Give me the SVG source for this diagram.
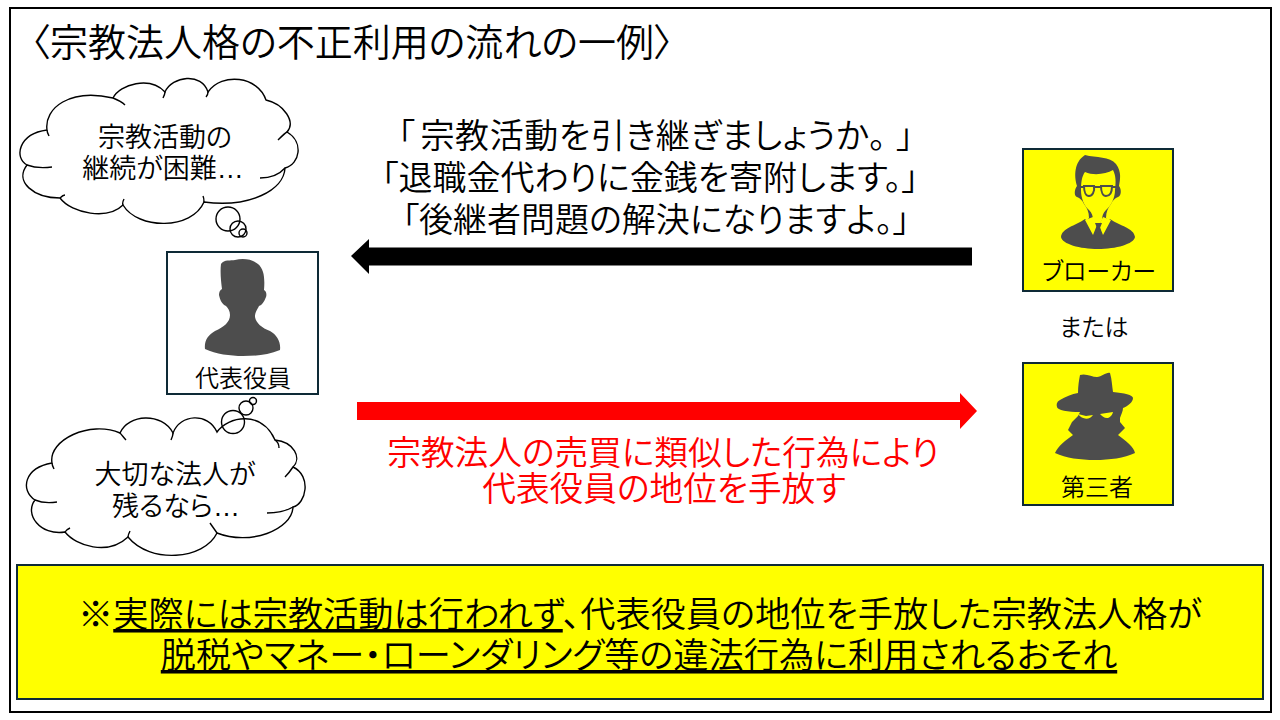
<svg xmlns="http://www.w3.org/2000/svg" width="1280" height="720" viewBox="0 0 1280 720">
<style>
text{font-family:"Noto Sans CJK JP","Noto Sans",sans-serif;fill:#000;text-anchor:middle;font-size:24px;font-weight:350;font-feature-settings:"palt"}
.big{font-size:34px}
.cl{font-size:27px}
.dots{font-family:"Liberation Sans",sans-serif}
.red{fill:#f00;font-size:33.700px}
.under{font-size:35.200px}
.u{text-decoration:underline}
.box{stroke:#0e2a36;stroke-width:2}
.icon{fill:#4d4d4d}
.hole{fill:#ff0}
.cloud{fill:#fff;stroke:#000;stroke-width:1.4}
.tail{fill:none;stroke:#000;stroke-width:1.4}
</style>
<rect width="1280" height="720" fill="#fff"/>
<rect id="frame" x="10" y="8" width="1261" height="704" fill="#fff" stroke="#000" stroke-width="2"/>
<text id="title" x="352" y="56" style="font-size:38px">〈宗教法人格の不正利用の流れの一例〉</text>
<g id="cloud-top">
<path class="cloud" d="M27 165C14 158 18 134 47 130C44 108 70 88 113 98C120 84 150 76 165 92C172 76 202 72 208 92C222 72 258 76 266 100C284 104 296 122 287 132C304 142 300 164 285 168C284 190 250 208 204 202C192 230 138 230 123 205C108 220 72 214 60 198C34 198 14 182 27 165Z"/>
<path class="tail" d="M27 165C35 168 44 168 52 167M47 130C47 132 48 134 49 136M113 98C118 100 122 102 125 105M165 92C165 94 164 96 163 98M208 92C208 94 207 96 206 97M287 132C285 133 282 136 278 140M285 168C278 176 270 178 260 178M204 202C204 200 204 198 203 196M123 205C122 203 123 201 124 199M60 198C62 196 63 195 65 195"/>
<circle class="tail" cx="228" cy="219" r="12"/><circle class="tail" cx="238" cy="229" r="8"/><circle class="tail" cx="243" cy="233" r="4"/>
<text class="cl" x="165" y="147">宗教活動の</text><text class="cl" x="163" y="178">継続が困難<tspan class="dots">…</tspan></text>
</g>
<g id="cloud-bottom">
<path class="cloud" d="M35 500C20 490 24 468 52 463C48 440 90 420 120 433C128 414 162 412 173 433C180 414 208 412 217 432C228 416 262 410 275 440C294 442 302 458 293 467C312 476 306 504 293 507C292 530 250 546 217 533C204 560 150 564 128 537C108 556 76 546 65 532C40 536 24 514 35 500Z"/>
<path class="tail" d="M35 500C42 503 50 503 57 502M52 463C52 465 53 467 54 469M120 433C122 435 124 438 126 440M173 433C173 436 172 438 171 440M275 440C278 442 279 445 279 448M293 467C291 470 288 474 285 477M293 507C286 511 276 513 267 513M217 533C215 530 212 526 210 523M128 537C128 535 129 533 130 531M65 532C66 530 68 529 70 528"/>
<circle class="tail" cx="233" cy="422" r="11.500"/><circle class="tail" cx="246" cy="408" r="7"/><circle class="tail" cx="253" cy="401" r="3.500"/>
<text class="cl" x="175" y="484">大切な法人が</text><text class="cl" x="176" y="516">残るなら<tspan class="dots">…</tspan></text>
</g>
<g id="node-representative">
<rect class="box" x="167" y="252" width="151" height="142" fill="#fff"/>
<path class="icon" d="M221 264C224 259 231 261 235 260C243 258 252 259 258 264C264 269 265 278 264 290C266 291 267 294 266 297C264 302 262 305 259 306C257 310 255 312 255 317C256 323 262 328 270 331C277 335 281 342 280 350C268 355 256 356 243 356C230 356 216 354 205 349C204 341 208 335 215 331C224 327 230 322 230 315C230 311 228 308 226 306C222 304 220 300 219 295C219 292 220 290 222 289C221 281 220 272 221 264Z"/>
<text x="243" y="387">代表役員</text>
</g>
<g id="node-broker">
<rect class="box" x="1023" y="149" width="150" height="142" fill="#ff0"/>
<path class="icon" d="M1085 219C1075 226 1062 228 1061 237C1062 244 1080 249 1098 249C1116 249 1134 244 1135 237C1134 228 1120 226 1110 219L1098 230Z"/>
<path class="icon" d="M1085 155C1096 158 1110 156 1116 164C1122 172 1120 180 1119 186C1122 190 1121 196 1118 197C1115 198 1113 200 1111 204C1108 208 1106 212 1106 218L1110 222L1098 234L1085 222L1089 218C1089 212 1087 208 1084 204C1082 200 1080 198 1077 197C1074 196 1074 190 1077 186C1074 176 1074 162 1085 155Z"/>
<path class="hole" d="M1085 172C1094 176 1106 174 1113 170C1116 176 1116 182 1115 190C1115 198 1111 206 1106 210C1103 213 1102 216 1102 220L1098 226L1093 220C1093 216 1092 213 1089 210C1084 206 1081 198 1081 190C1081 182 1082 176 1085 172Z"/>
<path class="hole" stroke="#4d4d4d" stroke-width="2" d="M1084 186H1094C1095 192 1092 196 1089 196C1086 196 1084 192 1084 186ZM1101 186H1112C1112 192 1110 196 1106 196C1103 196 1101 192 1101 186Z"/>
<path fill="none" stroke="#4d4d4d" stroke-width="2" d="M1078 187H1084M1094 187H1101M1112 187H1118"/>
<path class="hole" d="M1085 220L1093 217L1097 225L1093 235ZM1111 220L1103 217L1099 225L1103 235Z"/>
<path class="icon" d="M1095 223H1102L1100 228L1102 237L1098 240L1095 237L1097 228Z"/>
<text x="1099" y="280">ブローカー</text>
</g>
<text id="or-label" x="1094" y="336">または</text>
<g id="node-third">
<rect class="box" x="1023" y="363" width="150" height="142" fill="#ff0"/>
<path class="icon" d="M1080 375C1086 373 1092 377 1097 377C1102 377 1106 372 1110 373C1112 380 1112 386 1113 392C1124 393 1133 395 1133 398C1133 402 1128 406 1123 408C1123 411 1121 415 1120 418L1120 422L1125 428L1118 435C1126 441 1134 447 1135 453C1124 458 1110 460 1095 460C1080 460 1066 458 1055 453C1058 446 1066 440 1073 435L1068 430L1072 422L1078 416L1080 412C1068 412 1057 410 1057 407C1056 403 1058 401 1060 400C1065 397 1072 394 1078 393C1078 386 1079 380 1080 375Z"/>
<path class="hole" d="M1078 414L1086 416L1093 415C1090 420 1082 420 1078 414ZM1100 414L1113 412C1112 416 1109 418 1107 418C1104 418 1102 416 1100 414Z"/>
<text x="1097" y="496">第三者</text>
</g>
<g id="connectors">
<path d="M972 247.500H369V239L351 256L369 274V265.500H972Z" fill="#000"/>
<path d="M357 402H960V393L977 411L960 429V420H357Z" fill="#f00"/>
</g>
<g id="speech">
<text class="big" x="656" y="148" style="letter-spacing:.6px">「<tspan dx="5">宗教活動を引き継ぎましょうか。</tspan><tspan dx="10">」</tspan></text>
<text class="big" x="650" y="190">「退職金代わりに金銭を寄附します。」</text>
<text class="big" x="656" y="232">「後継者問題の解決になりますよ。」</text>
</g>
<g id="action">
<text class="big red" x="663" y="465">宗教法人の売買に類似した行為により</text>
<text class="big red" x="664" y="501">代表役員の地位を手放す</text>
</g>
<g id="note">
<rect x="17" y="565" width="1246" height="134" fill="#ff0" stroke="#0e2a36" stroke-width="2"/>
<text class="under" x="640" y="627">※<tspan class="u">実際には宗教活動は行われず</tspan>、代表役員の地位を手放した宗教法人格が</text>
<text class="under" x="639" y="668"><tspan class="u">脱税やマネー・ローンダリング等の違法行為に利用されるおそれ</tspan></text>
</g>
</svg>
